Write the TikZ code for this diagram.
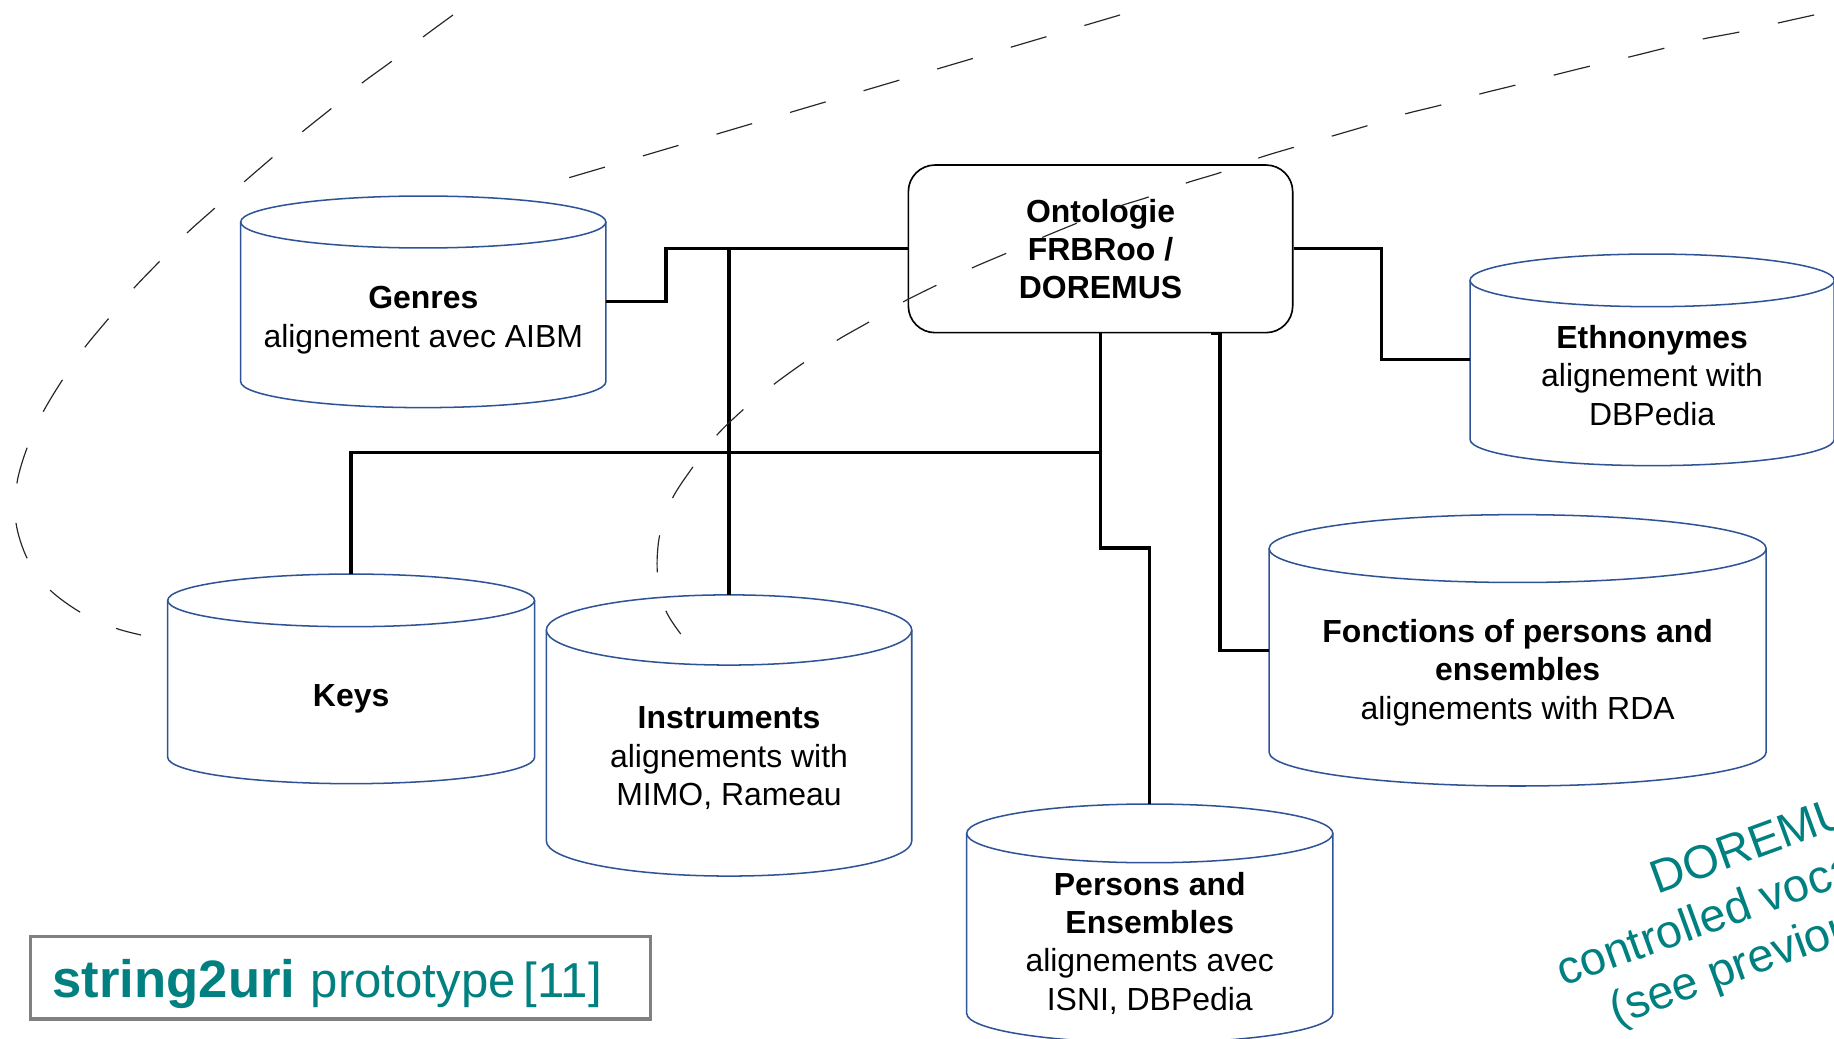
\documentclass[tikz,border=0pt]{standalone}
\usepackage{fontspec}
\setmainfont{Liberation Sans}
\usetikzlibrary{fit}

\definecolor{cylblue}{RGB}{47,84,150}
\definecolor{tealtext}{RGB}{0,128,128}
\definecolor{framegray}{RGB}{128,128,128}

\tikzset{
  conn/.style={line width=1.4pt, draw=black},
  cylline/.style={draw=cylblue, line width=0.65pt},
  cyltext/.style={align=center, inner sep=0pt, font=\fontsize{13.65}{16.35}\selectfont},
  grouping/.style={draw=black!85, line width=0.5pt, dash pattern=on 15.9pt off 16.9pt},
  ontobox/.style={draw, line width=0.7pt, rounded corners=11.4pt, fill=white,
    minimum width=164.3pt, minimum height=71.65pt, align=center, inner sep=0pt,
    font=\bfseries\fontsize{13.65}{16.35}\selectfont},
  protobox/.style={draw=framegray, line width=1.3pt, fill=white, minimum width=265pt,
    minimum height=35.2pt, text width=246pt, inner xsep=9.5pt, align=left,
    text height=18pt, text depth=1.3pt, text=tealtext},
  vocabtext/.style={rotate=20, align=center, text=tealtext, inner sep=0pt,
    font=\fontsize{20}{23.25}\selectfont},
}

% database cylinder: [text shift], name, centre x, x radius, top centre y,
% bottom centre y, y radius, text
\newcommand\dbcylinder[8][0]{%
  \fill[white] (#3-#4,#5) rectangle (#3+#4,#6);
  \fill[white] (#3,#6) ellipse[x radius=#4, y radius=#7];
  \draw[cylline] (#3-#4,#5) -- (#3-#4,#6)
    arc[start angle=180, end angle=0, x radius=#4, y radius=#7] -- (#3+#4,#5);
  \draw[cylline, fill=white] (#3,#5) ellipse[x radius=#4, y radius=#7];
  \node[inner sep=0pt, outer sep=0pt, fit={(#3-#4,#5-#7) (#3+#4,#6+#7)}] (#2) {};
  \node[cyltext] (#2-text) at (#3,{(#5+#6+#7)/2+4.5+#1}) {#8};
}

\begin{document}
\begin{tikzpicture}[x=0.5pt, y=-0.5pt]
  \useasboundingbox (0,0) rectangle (1568,888);
  \fill[white] (0,0) rectangle (1568,888);
  \clip (0,0) rectangle (1568,888);

  % vocabularies
  \dbcylinder{genres}{361.9}{156.1}{189.8}{326.3}{22.2}{\textbf{Genres}\\alignement avec AIBM}
  \dbcylinder[1.5]{keys}{300.2}{156.8}{513.3}{647.5}{22.5}{\textbf{Keys}}
  \dbcylinder{instr}{623.3}{156.2}{538.6}{719}{30}{\textbf{Instruments}\\alignements with\\MIMO, Rameau}
  \dbcylinder[-2.5]{ethno}{1412.5}{155.7}{239.7}{375.6}{22.5}{\textbf{Ethnonymes}\\alignement with\\DBPedia}
  \dbcylinder{fonct}{1297.5}{212.5}{469}{643}{29}{\textbf{Fonctions of persons and}\\\textbf{ensembles}\\alignements with RDA}
  \dbcylinder{persons}{983}{156.5}{712.5}{866.4}{25.1}{\textbf{Persons and}\\\textbf{Ensembles}\\alignements avec\\ISNI, DBPedia}

  % central ontology
  \node[ontobox] (ont) at (940.9,212.75) {Ontologie\\FRBRoo /\\DOREMUS};

  % bend points of the connectors
  \coordinate (gx) at (569.4,258.8);
  \coordinate (hub) at (940.9,387);
  \coordinate (pbend) at (940.9,468.6);
  \coordinate (ex) at (1181,307);
  \coordinate (fx) at (1043.1,555);

  \draw[conn] (genres.east) -- (genres.east -| gx) -- (gx |- ont.west) -- (ont.west);
  \draw[conn] (instr.north) -- (instr.north |- ont.west);
  \draw[conn] (keys.north) |- (hub);
  \draw[conn] (ont.south) -- (pbend) -| (persons.north);
  \draw[conn] (ont.east) -| (ex) |- (ethno.west);
  \draw[conn] ([xshift=-4pt]ont.south -| fx) -- (ont.south -| fx) -- (fx |- fonct.west) -- (fonct.west);

  % prototype caption
  \node[protobox] (proto) at (291,836)
    {\fontsize{22.5}{24}\selectfont\bfseries string2uri\fontsize{21}{24}\selectfont\mdseries\ \ prototype [11]};

  % rotated note
  \node[vocabtext] (vocab) at (1526,764.5)
    {DOREMUS\\controlled vocabularies\\(see previous slide)};

  % dashed grouping outlines
  \draw[grouping] plot[smooth, tension=0.5] coordinates {
    (387.3,12.8) (361.7,31.6) (335.2,52.2) (309.5,71) (283.9,92.3) (258.2,112.9)
    (233.4,134.2) (208.6,155.6) (183.8,177.8) (159.9,199.2) (136.8,223.1) (114.6,246.2)
    (93.2,271.9) (72.7,296.7) (53.9,324) (36.8,352.3) (23.1,383) (14.5,413)
    (13.7,447.2) (23.1,477.1) (41.9,503.6) (68.4,523.3) (98.3,536.9) (120.6,542.9)};
  \draw[grouping] (957.6,12.8) -- (485.6,152.2);
  \draw[grouping] plot[smooth, tension=0.5] coordinates {
    (1551,12.8) (1520,19.7) (1487,27.4) (1456,33.3) (1424,41) (1393,48.7)
    (1360,56.4) (1329,64.1) (1296,72.7) (1265,80.4) (1232,89.8) (1201,97.5)
    (1171,106.9) (1139,116.3) (1107,125.7) (1076,135.1) (1045,147) (1014,156.5)
    (982,168.4) (955,177) (921,190.7) (892,202.6) (861,216.3) (831,229.1)
    (801,243.7) (772,258.2) (743,275.3) (716,290.7) (688,309.5) (662,328.3)
    (636,349.7) (613,371.9) (593,398.4) (575,425.8) (564,457.4) (562,489)
    (569,521.5) (582,542)};
\end{tikzpicture}
\end{document}
